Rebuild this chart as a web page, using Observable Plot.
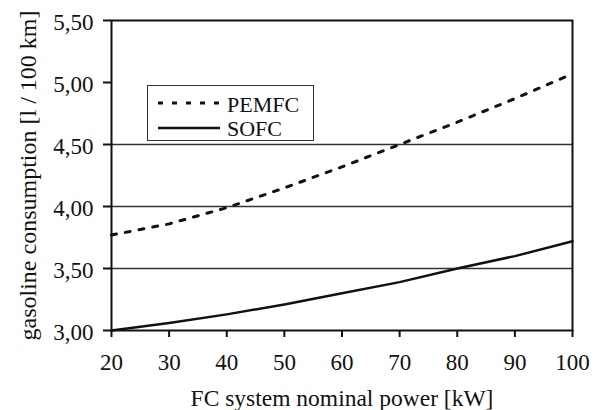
<!DOCTYPE html>
<html>
<head>
<meta charset="utf-8">
<script src="https://cdn.jsdelivr.net/npm/d3@7"></script>
<script src="https://cdn.jsdelivr.net/npm/@observablehq/plot@0.6"></script>
<style>
  html, body { margin: 0; padding: 0; background: #fff; }
  #wrap { position: relative; width: 599px; height: 410px; font-family: 'Liberation Serif', 'Times New Roman', serif; }
  #wrap svg text { font-family: 'Liberation Serif', 'Times New Roman', serif !important; }
  #legend { position: absolute; left: 147px; top: 85px; width: 165px; height: 54px; border: 1.5px solid #333; background: #fff; }
</style>
</head>
<body>
<div id="wrap"></div>
<script>
const power = [20, 30, 40, 50, 60, 70, 80, 90, 100];
const pemfc = [3.77, 3.86, 3.99, 4.15, 4.32, 4.50, 4.68, 4.87, 5.07];
const sofc  = [3.00, 3.06, 3.13, 3.21, 3.30, 3.39, 3.50, 3.60, 3.72];
const seriesNames = ["PEMFC", "SOFC"];
const yTicks = [3.0, 3.5, 4.0, 4.5, 5.0, 5.5];
const xTicks = [20, 30, 40, 50, 60, 70, 80, 90, 100];
const gridValues = [3.5, 4.0, 4.5];

const pemData = power.map((p, i) => ({p, v: pemfc[i]}));
const sofcData = power.map((p, i) => ({p, v: sofc[i]}));
const fmt = d => d3.format(".2f")(d).replace(".", ",");

const chart = Plot.plot({
  width: 599,
  height: 410,
  marginLeft: 111,
  marginRight: 27,
  marginTop: 20,
  marginBottom: 80,
  style: {fontFamily: "'Liberation Serif', serif", fontSize: "23px", color: "#111", background: "#fff"},
  x: {domain: [20, 100]},
  y: {domain: [3.0, 5.5]},
  marks: [
    Plot.ruleY(gridValues, {stroke: "#333", strokeWidth: 1.5}),
    Plot.line(pemData, {x: "p", y: "v", stroke: "#111", strokeWidth: 3, strokeDasharray: "5,9"}),
    Plot.line(sofcData, {x: "p", y: "v", stroke: "#111", strokeWidth: 2.5}),
    Plot.frame({stroke: "#111", strokeWidth: 2}),
    Plot.axisX({ticks: xTicks, tickSize: 7, tickPadding: 16, strokeWidth: 2, fontSize: 23, label: "FC system nominal power [kW]", labelAnchor: "center", labelOffset: 75, labelArrow: "none"}),
    Plot.axisY({ticks: yTicks, tickSize: 8, tickPadding: 10, strokeWidth: 2, fontSize: 23, tickFormat: fmt, label: "gasoline consumption [l / 100 km]", labelAnchor: "center", labelOffset: 93, labelArrow: "none"})
  ]
});
document.getElementById("wrap").appendChild(chart);
const root = d3.select(chart);
root.selectAll("g[aria-label='x-axis label'] text").style("font-size", "23.5px");
root.selectAll("g[aria-label='y-axis label'] text").style("font-size", "24px");
function nudge(sel, dx, dy) {
  root.selectAll(sel).each(function() {
    const g = d3.select(this);
    const t = g.attr("transform") || "";
    g.attr("transform", `translate(${dx},${dy}) ${t}`);
  });
}
nudge("g[aria-label='y-axis tick label']", 0, 2);

// legend
const leg = document.createElement("div");
leg.id = "legend";
const ns = "http://www.w3.org/2000/svg";
const svg = document.createElementNS(ns, "svg");
svg.setAttribute("width", 165);
svg.setAttribute("height", 54);
const styles = [{dash: "5,9", w: 3}, {dash: null, w: 2.5}];
seriesNames.forEach((name, i) => {
  const yy = 17 + i * 25;
  const ln = document.createElementNS(ns, "line");
  ln.setAttribute("x1", 10); ln.setAttribute("x2", 72);
  ln.setAttribute("y1", yy); ln.setAttribute("y2", yy);
  ln.setAttribute("stroke", "#111");
  ln.setAttribute("stroke-width", styles[i].w);
  if (styles[i].dash) ln.setAttribute("stroke-dasharray", styles[i].dash);
  svg.appendChild(ln);
  const t = document.createElementNS(ns, "text");
  t.setAttribute("x", 79); t.setAttribute("y", 26 + i * 24);
  t.setAttribute("fill", "#111");
  t.style.fontSize = "22px";
  t.textContent = name;
  svg.appendChild(t);
});
leg.appendChild(svg);
document.getElementById("wrap").appendChild(leg);
</script>
</body>
</html>
